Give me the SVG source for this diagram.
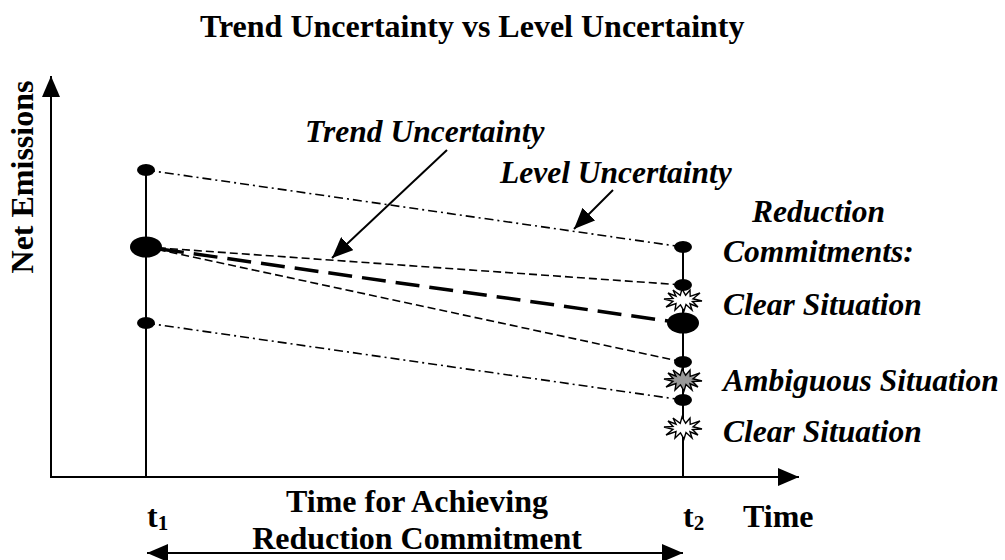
<svg xmlns="http://www.w3.org/2000/svg" width="1005" height="560" viewBox="0 0 1005 560">
  <style>
    text { font-family: "Liberation Serif", "Times New Roman", serif; fill: #000; font-weight: bold; }
    .big { font-size: 32px; }
    .it { font-size: 31.5px; font-style: italic; }
    .sub { font-size: 21px; }
    .axis { stroke: #000; stroke-width: 2; fill: none; }
    .stem { stroke: #000; stroke-width: 2; fill: none; }
    .dashdot { stroke: #000; stroke-width: 1.6; fill: none; stroke-dasharray: 9 4 2 4; }
    .dash { stroke: #000; stroke-width: 1.6; fill: none; stroke-dasharray: 8 4; }
    .longdash { stroke: #000; stroke-width: 3.5; fill: none; stroke-dasharray: 24 10; }
    .pointer { stroke: #000; stroke-width: 2; fill: none; }
    .dot { fill: #000; }
    .burst { stroke: #000; stroke-width: 1.4; stroke-linejoin: miter; }
  </style>
  <defs>
    <marker id="head" markerUnits="userSpaceOnUse" markerWidth="22" markerHeight="18" refX="21" refY="9" orient="auto">
      <path d="M0,0 L21,9 L0,18 Z" fill="#000"/>
    </marker>
    <marker id="head-start" markerUnits="userSpaceOnUse" markerWidth="22" markerHeight="18" refX="0" refY="9" orient="auto">
      <path d="M21,0 L0,9 L21,18 Z" fill="#000"/>
    </marker>
    <!-- irregular starburst used for the commitment markers -->
    <path id="burst" d="M19,1 L9.5,1.5 L15,7 L7,3.8 L9,10 L3,4.6 L1,11 L-2.5,4.8 L-8,10 L-7,3.6 L-17,7 L-10,1.4 L-19,-1 L-10,-1.5 L-15,-7 L-7,-3.8 L-10,-10 L-2.8,-4.6 L-1,-11 L2.6,-4.8 L7,-10 L7.2,-3.6 L17,-7 L10,-1.2 Z"/>
  </defs>

  <rect width="1005" height="560" fill="#fff"/>

  <!-- heading -->
  <text id="title" class="big" x="200" y="37">Trend Uncertainty vs Level Uncertainty</text>

  <!-- axes -->
  <g id="axes">
    <line class="axis" x1="51" y1="477" x2="51" y2="76" marker-end="url(#head)"/>
    <line class="axis" x1="50" y1="477" x2="799" y2="477" marker-end="url(#head)"/>
    <text class="big" transform="translate(33,177) rotate(-90)" text-anchor="middle">Net Emissions</text>
    <text class="big" x="743" y="527">Time</text>
  </g>

  <!-- emission paths and pointers -->
  <g id="connectors">
    <line class="stem" x1="146" y1="170" x2="146" y2="477"/>
    <line class="stem" x1="683" y1="247" x2="683" y2="477"/>
    <line class="dashdot" x1="146" y1="170" x2="683" y2="247"/>
    <line class="dashdot" x1="146" y1="323" x2="683" y2="400"/>
    <line class="dash" x1="146" y1="247" x2="683" y2="285"/>
    <line class="dash" x1="146" y1="247" x2="683" y2="362"/>
    <line class="longdash" x1="160" y1="249" x2="668" y2="321"/>
    <line class="pointer" x1="447" y1="150" x2="332" y2="258" marker-end="url(#head)"/>
    <line class="pointer" x1="613" y1="190" x2="574" y2="229" marker-end="url(#head)"/>
    <line class="axis" x1="147" y1="553" x2="683" y2="553" marker-start="url(#head-start)" marker-end="url(#head)"/>
  </g>

  <!-- starting point t1 -->
  <g id="node-t1">
    <ellipse class="dot" cx="146" cy="170" rx="9" ry="6"/>
    <ellipse class="dot" cx="146" cy="247" rx="16" ry="10.5"/>
    <ellipse class="dot" cx="146" cy="323" rx="9" ry="6"/>
    <text class="big" x="147" y="527">t<tspan class="sub" dy="3">1</tspan></text>
  </g>

  <!-- end point t2 -->
  <g id="node-t2">
    <ellipse class="dot" cx="683" cy="247" rx="9" ry="6"/>
    <ellipse class="dot" cx="683" cy="285" rx="9" ry="6"/>
    <ellipse class="dot" cx="683" cy="323" rx="16" ry="10.5"/>
    <ellipse class="dot" cx="683" cy="362" rx="9" ry="6"/>
    <ellipse class="dot" cx="683" cy="400" rx="9" ry="6"/>
    <text class="big" x="683" y="527">t<tspan class="sub" dy="3">2</tspan></text>
  </g>

  <g id="node-clear-upper">
    <use href="#burst" class="burst" fill="#fff" transform="translate(683,300)"/>
    <text class="it" x="723" y="315">Clear Situation</text>
  </g>
  <g id="node-ambiguous">
    <use href="#burst" class="burst" fill="#999" transform="translate(683,380)"/>
    <text class="it" x="723" y="391">Ambiguous Situation</text>
  </g>
  <g id="node-clear-lower">
    <use href="#burst" class="burst" fill="#fff" transform="translate(683,428)"/>
    <text class="it" x="723" y="442">Clear Situation</text>
  </g>

  <!-- annotations -->
  <g id="labels">
    <text class="it" x="305" y="142">Trend Uncertainty</text>
    <text class="it" x="500" y="183">Level Uncertainty</text>
    <text class="it" x="752" y="222">Reduction</text>
    <text class="it" x="723" y="262">Commitments:</text>
    <text class="big" x="417" y="512" text-anchor="middle">Time for Achieving</text>
    <text class="big" x="417" y="549" text-anchor="middle">Reduction Commitment</text>
  </g>
</svg>
